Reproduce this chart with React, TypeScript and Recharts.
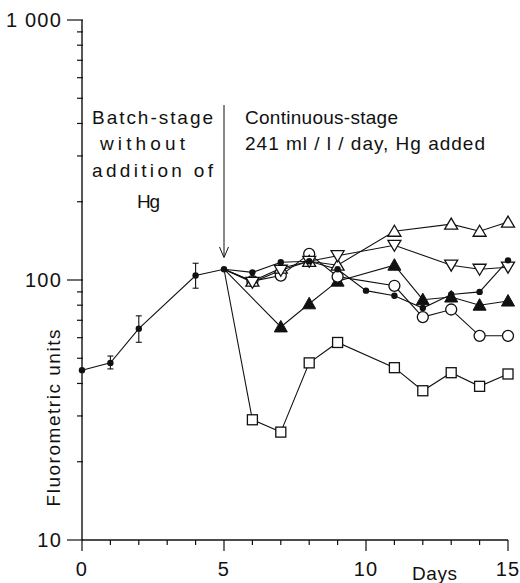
import React from 'react';
import { LineChart, Line, XAxis, YAxis, ErrorBar } from 'recharts';

// Sampling days (day 3 was not measured)
const days = [0, 1, 2, 4, 5, 6, 7, 8, 9, 10, 11, 12, 13, 14, 15];

// Batch stage (days 0-5) and the untreated culture afterwards
const control = [45, 48, 65, 104, 110, 107, 117, 118, 110, 91, 87, 78, 88, 90, 119];
// [below, above] error of the batch-stage means
const controlErr: (number[] | null)[] = [null, [2.5, 3], [7.4, 7.8], [11, 12], null, null, null, null, null, null, null, null, null, null, null];

// Hg-treated cultures, starting from the common day-5 value
const openCircle = [null, null, null, null, 110, 99, 104, 126, 103, null, 95, 72, 77, 61, 61];
const openTriangle = [null, null, null, null, 110, 99, 111, 118, 114, null, 154, null, 164, 154, 167];
const openTriangleDown = [null, null, null, null, 110, 98, 109, 118, 124, null, 136, null, 114, 110, 112];
const filledTriangle = [null, null, null, null, 110, null, 66, 81, 99, null, 114, 84, 86, 80, 83];
const openSquare = [null, null, null, null, 110, 29, 26, 48, 57.5, null, 46, 37.5, 44, 39, 43.5];

const xTicks = [0, 1, 2, 3, 4, 5, 6, 7, 8, 9, 10, 11, 12, 13, 14, 15];
const xLabels = [0, 5, 10, 15];
const yTicks = [10, 20, 30, 40, 50, 60, 70, 80, 90, 100, 200, 300, 400, 500, 600, 700, 800, 900, 1000];
const yLabels: Record<number, string> = { 10: '10', 100: '100', 1000: '1 000' };

const data = days.map((day, i) => ({
  day,
  control: control[i],
  err: controlErr[i] ?? undefined,
  circle: openCircle[i],
  tri: openTriangle[i],
  triDown: openTriangleDown[i],
  triFilled: filledTriangle[i],
  square: openSquare[i],
}));

const INK = '#111';
const FONT = '"Liberation Sans", Arial, sans-serif';

type Shape = 'dot' | 'circle' | 'tri' | 'triDown' | 'triFilled' | 'square';

// Marker renderer; branch series skip the shared day-5 point (drawn by the control)
const makeDot = (shape: Shape, key: string, skipDay?: number) => (props: any) => {
  const { cx, cy, payload, index } = props;
  const k = `${key}-${index}`;
  const v = payload ? payload[key] : null;
  if (cx == null || cy == null || v == null || (skipDay !== undefined && payload.day === skipDay)) {
    return <g key={k} />;
  }
  const sw = 1.3;
  switch (shape) {
    case 'dot':
      return <circle key={k} cx={cx} cy={cy} r={3.2} fill={INK} />;
    case 'circle':
      return <circle key={k} cx={cx} cy={cy} r={5.5} fill="#fff" stroke={INK} strokeWidth={sw} />;
    case 'tri':
      return (
        <path key={k} d={`M${cx},${cy - 6}L${cx + 6.5},${cy + 5}L${cx - 6.5},${cy + 5}Z`} fill="#fff" stroke={INK} strokeWidth={sw} strokeLinejoin="miter" />
      );
    case 'triDown':
      return (
        <path key={k} d={`M${cx},${cy + 6}L${cx + 6.5},${cy - 5}L${cx - 6.5},${cy - 5}Z`} fill="#fff" stroke={INK} strokeWidth={sw} />
      );
    case 'triFilled':
      return (
        <path key={k} d={`M${cx},${cy - 6.5}L${cx + 6.5},${cy + 5}L${cx - 6.5},${cy + 5}Z`} fill={INK} stroke={INK} strokeWidth={1} />
      );
    case 'square':
      return <rect key={k} x={cx - 5} y={cy - 5} width={10} height={10} fill="#fff" stroke={INK} strokeWidth={sw} />;
  }
  return <g key={k} />;
};

const YTick = (props: any) => {
  const { x, y, payload } = props;
  const v = payload.value as number;
  const label = yLabels[v];
  const major = label !== undefined;
  return (
    <g>
      <line x1={major ? x - 15 : x - 5} x2={x + 1} y1={y} y2={y} stroke={INK} strokeWidth={1.2} />
      {major && (
        <text x={x - 20} y={y} dy="0.36em" textAnchor="end" fontFamily={FONT} fontSize={20} letterSpacing={1.2} fill={INK}>
          {label}
        </text>
      )}
    </g>
  );
};

const XTick = (props: any) => {
  const { x, y, payload } = props;
  const v = payload.value as number;
  const major = xLabels.includes(v);
  return (
    <g>
      <line x1={x} x2={x} y1={y} y2={y + (major ? 11 : 5)} stroke={INK} strokeWidth={1.2} />
      {major && (
        <text x={x} y={y + 36} textAnchor="middle" fontFamily={FONT} fontSize={20} letterSpacing={1.2} fill={INK}>
          {v}
        </text>
      )}
    </g>
  );
};

const lineProps = {
  stroke: INK,
  strokeWidth: 1.1,
  connectNulls: true,
  activeDot: false as const,
  isAnimationActive: false,
  type: 'linear' as const,
};

export default function App() {
  return (
    <div style={{ position: 'absolute', left: 0, top: 0, width: 520, height: 583, background: '#fff' }}>
      <LineChart width={520} height={583} data={data} margin={{ top: 20, right: 12, bottom: 13, left: 0 }}>
        <XAxis
          dataKey="day"
          type="number"
          domain={[0, 15]}
          ticks={xTicks}
          interval={0}
          tickSize={0}
          tickMargin={0}
          height={30}
          axisLine={{ stroke: INK, strokeWidth: 1.4 }}
          tickLine={false}
          tick={<XTick />}
        />
        <YAxis
          type="number"
          scale="log"
          domain={[10, 1000]}
          ticks={yTicks}
          interval={0}
          tickSize={0}
          tickMargin={0}
          width={82}
          axisLine={{ stroke: INK, strokeWidth: 1.4 }}
          tickLine={false}
          tick={<YTick />}
        />
        <Line {...lineProps} dataKey="square" dot={makeDot('square', 'square', 5)} />
        <Line {...lineProps} dataKey="triFilled" dot={makeDot('triFilled', 'triFilled', 5)} />
        <Line {...lineProps} dataKey="circle" dot={makeDot('circle', 'circle', 5)} />
        <Line {...lineProps} dataKey="tri" dot={makeDot('tri', 'tri', 5)} />
        <Line {...lineProps} dataKey="triDown" dot={makeDot('triDown', 'triDown', 5)} />
        <Line {...lineProps} dataKey="control" dot={makeDot('dot', 'control')}>
          <ErrorBar dataKey="err" direction="y" width={3} stroke={INK} strokeWidth={1.1} />
        </Line>
      </LineChart>
      <svg width={520} height={583} style={{ position: 'absolute', left: 0, top: 0, pointerEvents: 'none' }}>
        <g fontFamily={FONT} fontSize={19} fill={INK}>
          <text x={92} y={124} textLength={121} lengthAdjust="spacing">Batch-stage</text>
          <text x={100} y={150} textLength={85} lengthAdjust="spacing">without</text>
          <text x={92} y={177} textLength={121} lengthAdjust="spacing">addition of</text>
          <text x={137} y={208} textLength={23} lengthAdjust="spacing">Hg</text>
          <text x={245} y={124} textLength={153} lengthAdjust="spacing">Continuous-stage</text>
          <text x={245} y={150} textLength={240} lengthAdjust="spacing">241 ml / l / day, Hg added</text>
          <text x={412} y={580} textLength={45} lengthAdjust="spacing">Days</text>
          <text
            x={0}
            y={0}
            transform="translate(60 418) rotate(-90)"
            textAnchor="middle"
            textLength={177}
            lengthAdjust="spacing"
          >
            Fluorometric units
          </text>
        </g>
        <line x1={224} y1={105} x2={224} y2={257} stroke={INK} strokeWidth={1} />
        <path d="M219.5,247L224,257.5L228.5,247" fill="none" stroke={INK} strokeWidth={1} />
      </svg>
    </div>
  );
}
